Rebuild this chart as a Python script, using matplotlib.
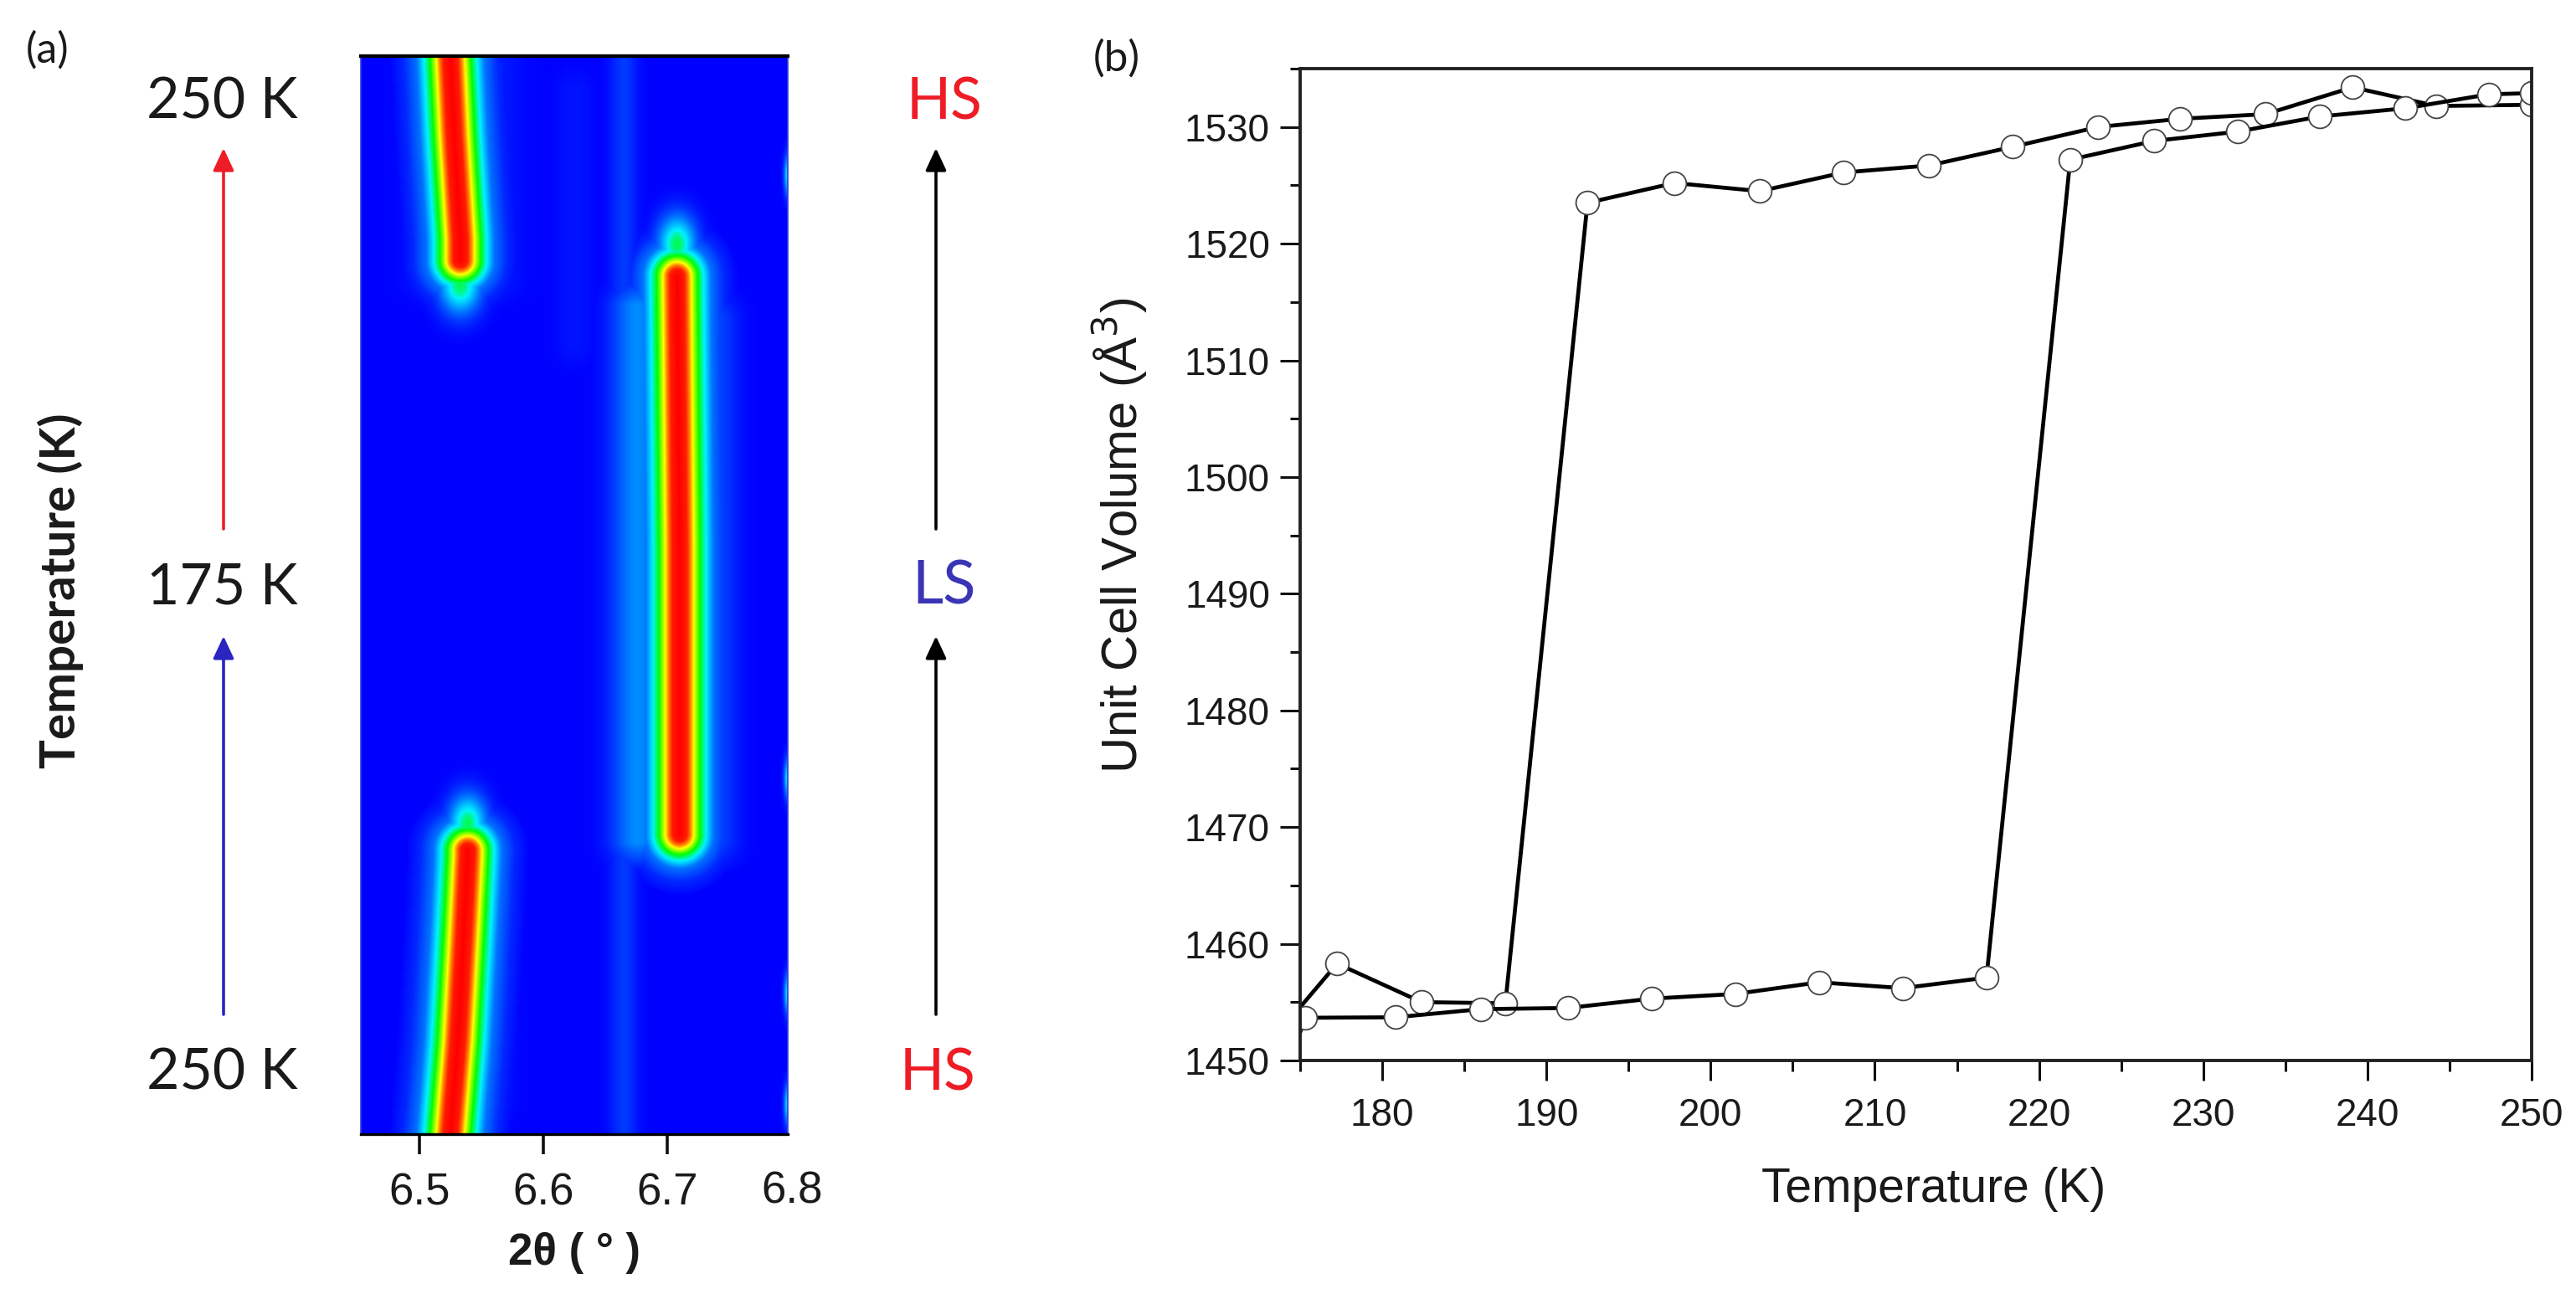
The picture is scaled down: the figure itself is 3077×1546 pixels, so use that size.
import numpy as np
import matplotlib
matplotlib.use("Agg")
import matplotlib.pyplot as plt
from matplotlib.colors import LinearSegmentedColormap

# ---- panel (b) data
cool_T = [250.0, 244.2, 239.1, 233.8, 228.6, 223.6, 218.4, 213.3, 208.1, 203.0, 197.8, 192.5, 187.5, 182.4, 177.25, 174.9]
cool_V = [1531.9, 1531.8, 1533.4, 1531.1, 1530.7, 1530.0, 1528.3, 1526.7, 1526.1, 1524.5, 1525.2, 1523.5, 1454.9, 1455.0, 1458.3, 1454.4]
heat_T = [174.9, 175.3, 180.8, 186.0, 191.3, 196.4, 201.5, 206.6, 211.7, 216.8, 221.9, 227.0, 232.1, 237.1, 242.3, 247.4, 250.0]
heat_V = [1452.0, 1453.66, 1453.7, 1454.4, 1454.5, 1455.3, 1455.7, 1456.7, 1456.2, 1457.1, 1527.2, 1528.8, 1529.6, 1530.9, 1531.6, 1532.8, 1532.9]

# ---- panel (a) data: ridge centre (2theta) against scan row (0 = bottom, 100 = top)
ridgeA_row = [0, 8.5, 18.9, 25.8, 26.3]
ridgeA_tth = [6.525, 6.531, 6.536, 6.539, 6.539]
ridgeB_row = [27.8, 54.7, 79.6]
ridgeB_tth = [6.710, 6.710, 6.708]
ridgeC_row = [81.1, 83.1, 92.6, 100]
ridgeC_tth = [6.533, 6.533, 6.528, 6.525]
# distance from ridge (deg) and intensity level at that distance
prof_dist = [0.0, 0.0058, 0.0085, 0.0115, 0.0165, 0.0215, 0.0275, 0.0380, 0.0500]
prof_level = [1.0, 0.96, 0.84, 0.70, 0.55, 0.40, 0.20, 0.07, 0.0]
# isolated faint spots: 2theta, row, level
spot_tth = [6.708, 6.539, 6.533, 6.797, 6.797, 6.797, 6.797]
spot_row = [82.6, 28.8, 78.8, 89.0, 33.0, 13.0, 2.7]
spot_lvl = [0.50, 0.50, 0.50, 0.38, 0.38, 0.38, 0.38]
spot_sx = [0.011, 0.011, 0.012, 0.002, 0.002, 0.002, 0.002]
spot_sy = [1.9, 1.9, 1.9, 1.3, 1.3, 1.3, 1.3]
# broad faint vertical bands: 2theta, width, row from, row to, level
band_tth = [6.665, 6.676, 6.737, 6.535, 6.625, 6.560]
band_w = [0.008, 0.015, 0.014, 0.026, 0.012, 0.012]
band_r0 = [-20, 24, 24, 76, 70, 0]
band_r1 = [120, 80, 79, 120, 100, 28]
band_lvl = [0.10, 0.24, 0.13, 0.10, 0.035, 0.05]

x_ticks_a = [6.5, 6.6, 6.7]

W, H = 3077, 1546
fig = plt.figure(figsize=(W / 100, H / 100), dpi=100, facecolor="white")


def axes_px(l, t, r, b):
    return fig.add_axes([l / W, 1 - b / H, (r - l) / W, (b - t) / H])


# ---------------- panel (a)
axa = axes_px(431, 67, 941, 1355)
xlim_a = (6.453, 6.797)
tth = np.linspace(*xlim_a, 510)
row = np.linspace(0, 100, 1288)
TT, RR = np.meshgrid(tth, row)
Z = np.zeros_like(TT)
row_scale = 0.1 / 148.5 * 12.88  # degrees equivalent of one row

for bt, bw, r0, r1, lv in zip(band_tth, band_w, band_r0, band_r1, band_lvl):
    env = np.clip((RR - r0) / 3, 0, 1) * np.clip((r1 - RR) / 3, 0, 1)
    Z = np.maximum(Z, lv * env * np.exp(-0.5 * ((TT - bt) / bw) ** 2))

for rr, tt_ in [(ridgeA_row, ridgeA_tth), (ridgeB_row, ridgeB_tth), (ridgeC_row, ridgeC_tth)]:
    c = np.interp(RR, rr, tt_)
    dy = np.maximum(np.maximum(rr[0] - RR, RR - rr[-1]), 0) * row_scale
    d = np.hypot(TT - c, dy)
    Z = np.maximum(Z, np.interp(d, prof_dist, prof_level))

for st, sr, sl, sx, sy in zip(spot_tth, spot_row, spot_lvl, spot_sx, spot_sy):
    Z = np.maximum(Z, sl * np.exp(-0.5 * (((TT - st) / sx) ** 2 + ((RR - sr) / sy) ** 2)))

cmap = LinearSegmentedColormap.from_list("scan", [
    (0.00, (0, 0, 1)), (0.20, (0, 0.45, 1)), (0.40, (0, 0.95, 1)),
    (0.55, (0, 1, 0)), (0.70, (1, 1, 0)), (0.84, (1, 0.45, 0)), (1.00, (1, 0, 0))])
axa.imshow(Z, origin="lower", extent=(*xlim_a, 0, 100), aspect="auto", cmap=cmap,
           vmin=0, vmax=1, interpolation="bilinear")
axa.set_xlim(*xlim_a)
axa.set_ylim(0, 100)
axa.set_yticks([])
axa.set_xticks(x_ticks_a)
axa.set_xticklabels([f"{v:.1f}" for v in x_ticks_a], family="Liberation Sans", fontsize=38, color="#1a1a1a")
axa.tick_params(axis="x", length=17, width=2.6, pad=16, color="#111111")
for s in ("left", "right"):
    axa.spines[s].set_color("#3a3ae0")
    axa.spines[s].set_linewidth(1.2)
axa.spines["top"].set_linewidth(3)
axa.spines["bottom"].set_linewidth(2.4)

# ---------------- panel (b)
axb = axes_px(1553, 82, 3024, 1267)
style = dict(color="black", lw=3.4, marker="o", ms=20, mfc="white", mec="#444444", mew=1.3)
axb.plot(cool_T, cool_V, markevery=list(range(len(cool_T) - 1)), **style)
axb.plot(heat_T, heat_V, markevery=list(range(1, len(heat_T))), **style)
axb.set_xlim(175, 250)
axb.set_ylim(1450, 1535)
axb.set_xticks(np.arange(180, 251, 10))
axb.set_xticks(np.arange(175, 251, 5), minor=True)
axb.set_yticks(np.arange(1450, 1531, 10))
axb.set_yticks(np.arange(1450, 1536, 5), minor=True)
axb.tick_params(axis="both", which="major", length=17, width=2.2, labelsize=33, pad=9, color="#111111", labelcolor="#1a1a1a")
axb.tick_params(axis="x", which="major", pad=15)
axb.tick_params(axis="both", which="minor", length=9, width=2.2, color="#111111")
for lab in axb.get_xticklabels() + axb.get_yticklabels():
    lab.set_family("Liberation Sans")
for s in axb.spines.values():
    s.set_linewidth(2.8)
    s.set_color("#222222")
    s.set_zorder(5)

# ---------------- page-level annotations
ov = fig.add_axes([0, 0, 1, 1], facecolor="none")
ov.set_xlim(0, W)
ov.set_ylim(H, 0)
ov.axis("off")
LAB = "Lato"
SANS = "Liberation Sans"


def t(x, y, s, size, color="#1a1a1a", family=LAB, **kw):
    ov.text(x, y, s, fontsize=size, color=color, family=family, ha="center", va="center", **kw)


t(57, 60, "(a)", 36)
t(1334, 70, "(b)", 37)
t(265, 123, "250 K", 49)
t(265, 702, "175 K", 49)
t(265, 1283, "250 K", 49)
t(1128, 123, "HS", 50, color="#ee1c25")
t(1128, 701, "LS", 52, color="#3a35b5")
t(1120, 1283, "HS", 50, color="#ee1c25")
t(72, 706, "Temperature (K)", 42, rotation=90, fontweight="bold")
t(686, 1497, "2θ ( ° )", 38, fontweight="bold", family=SANS)
t(946, 1423, "6.8", 38, family=SANS)
t(2310, 1421, "Temperature (K)", 41, family=SANS)
t(1338, 640, "Unit Cell Volume (Å$^3$)", 43, family=SANS, rotation=90)

arrows = [(267, 632, 177, "#ee1c25"), (267, 1212, 760, "#2a25c0"),
          (1118, 632, 177, "black"), (1118, 1212, 760, "black")]
for x, y0, y1, col in arrows:
    ov.annotate("", xy=(x, y1), xytext=(x, y0),
                arrowprops=dict(arrowstyle="-|>,head_length=0.9,head_width=0.42", color=col, lw=2.6,
                                shrinkA=0, shrinkB=0, mutation_scale=18))

fig.savefig("out.png", dpi=100, facecolor="white")
